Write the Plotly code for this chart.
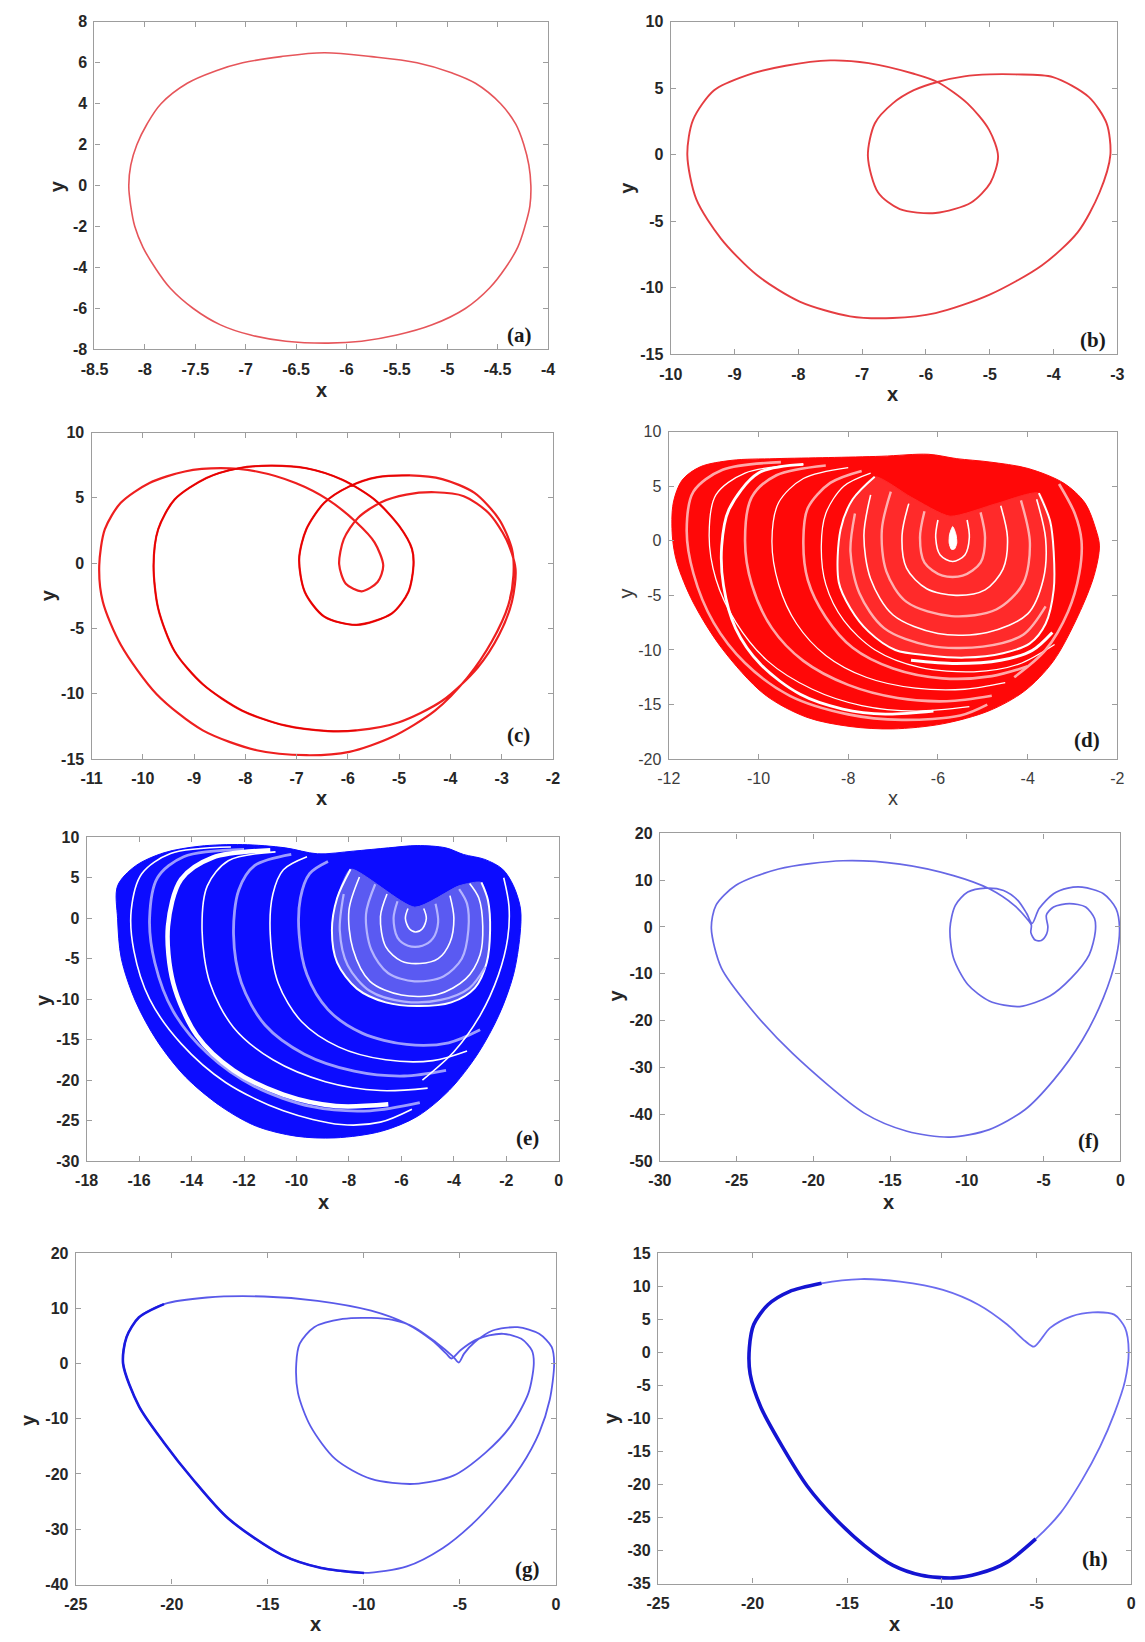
import plotly.graph_objects as go

W, H = 1145, 1642

# ---------------- data ----------------
# (a) period-1 cycle
A_X = [-6.22, -5.75, -5.30, -4.95, -4.72, -4.47, -4.32, -4.24, -4.19, -4.17, -4.18, -4.23, -4.30,
       -4.42, -4.58, -4.82, -5.15, -5.50, -5.85, -6.18, -6.60, -6.95, -7.25, -7.52, -7.75, -7.90,
       -8.02, -8.10, -8.14, -8.16, -8.14, -8.08, -7.98, -7.84, -7.58, -7.30, -7.03, -6.65, -6.22]
A_Y = [6.49, 6.30, 6.00, 5.50, 5.00, 4.00, 3.00, 2.00, 1.00, 0.00, -1.00, -2.00, -3.00,
       -4.00, -5.00, -6.00, -6.80, -7.30, -7.60, -7.69, -7.60, -7.30, -6.80, -6.00, -5.00, -4.00,
       -3.00, -2.00, -1.00, 0.00, 1.00, 2.00, 3.00, 4.00, 5.00, 5.60, 6.00, 6.30, 6.49]

# (b) period-2 cycle
B_X = [-5.82, -5.35, -5.01, -4.87, -4.99, -5.29, -5.85, -6.41, -6.75, -6.91, -6.80, -6.52, -6.19,
       -5.82, -5.40, -5.00, -4.60, -4.01, -3.45, -3.17, -3.11, -3.28, -3.62, -4.18, -5.01, -5.85,
       -6.52, -7.19, -7.98, -8.65, -9.21, -9.60, -9.74, -9.65, -9.32, -8.81, -8.20, -7.50, -6.90,
       -6.19, -5.82]
B_Y = [5.48, 3.87, 1.88, -0.10, -2.09, -3.58, -4.37, -4.08, -2.83, -0.10, 2.38, 3.87, 4.86,
       5.48, 5.90, 6.05, 6.05, 5.85, 4.36, 2.38, 0, -2.83, -5.81, -8.30, -10.53, -11.90,
       -12.27, -12.14, -11.03, -9.04, -6.31, -3.33, 0, 2.63, 4.86, 5.98, 6.70, 7.10, 6.90,
       6.10, 5.48]

# (c) period-4 cycle
C_X = [-4.79, -4.16, -3.53, -3.05, -2.80, -2.77, -2.87, -3.19, -3.67, -4.30, -5.14, -5.97, -6.81,
       -7.78, -8.83, -9.73, -10.43, -10.78, -10.85, -10.74, -10.43, -9.87, -9.18, -8.48, -7.78,
       -7.02, -6.39, -5.83, -5.48, -5.31, -5.42, -5.73, -6.04, -6.17, -6.08, -5.80, -5.35, -4.86,
       -4.30, -3.74, -3.26, -2.91, -2.73, -2.80, -3.05, -3.47, -4.16, -5.00, -5.83, -6.39, -7.23,
       -8.06, -8.83, -9.38, -9.70, -9.79, -9.70, -9.38, -8.76, -8.13, -7.50, -6.81, -6.11, -5.48,
       -5.00, -4.75, -4.72, -4.82, -5.14, -5.83, -6.46, -6.84, -6.95, -6.81, -6.46, -5.97, -5.42,
       -4.79]
C_Y = [6.72, 6.44, 5.38, 3.36, 1.09, -0.93, -3.21, -5.98, -8.76, -11.29, -13.31, -14.44, -14.70,
       -14.32, -12.80, -10.03, -6.24, -2.95, -0.18, 2.60, 4.62, 6.14, 7.02, 7.27, 7.02,
       6.14, 4.87, 3.11, 1.59, -0.18, -1.44, -2.15, -1.57, -0.08, 1.84, 3.48, 4.67, 5.25,
       5.43, 5.13, 3.86, 1.84, -0.43, -2.95, -5.48, -8.00, -10.53, -12.17, -12.80, -12.85, -12.42,
       -11.29, -9.27, -6.74, -3.46, -0.18, 2.60, 4.87, 6.52, 7.27, 7.47, 7.27, 6.39, 4.87,
       2.85, 1.09, -0.18, -2.20, -3.84, -4.72, -4.09, -2.20, 0.33, 2.60, 4.62, 5.88, 6.59,
       6.72]

# (d) chaotic attractor (red): envelope, spiral core, bands
D_ENV_X = [-11.90, -11.70, -11.30, -10.59, -9.63, -8.44, -7.25, -6.21, -5.58, -4.86, -3.99, -3.19,
           -2.72, -2.48, -2.40, -2.52, -2.87, -3.43, -4.07, -4.86, -5.90, -7.01, -7.96, -8.92,
           -9.87, -10.82, -11.46, -11.82, -11.92, -11.90]
D_ENV_Y = [3.45, 5.56, 6.77, 7.37, 7.52, 7.62, 7.74, 7.92, 7.52, 7.22, 6.62, 5.26,
           3.45, 1.04, -0.47, -3.19, -6.81, -11.04, -13.76, -15.57, -16.77, -17.23, -17.01, -16.17,
           -14.06, -9.83, -5.61, -1.98, 0.43, 3.45]
D_SP_X = [-7.41, -7.90, -8.17, -8.21, -7.95, -7.55, -6.95, -6.20, -5.40, -4.55, -3.95, -3.60,
          -3.42, -3.42, -3.50, -3.75, -4.70, -5.73, -6.60, -7.41]
D_SP_Y = [5.87, 3.80, 1.03, -3.80, -6.20, -8.30, -10.00, -10.50, -10.70, -10.30, -9.40, -7.60,
          -4.50, -1.00, 1.80, 4.36, 3.40, 2.25, 4.00, 5.87]
D_W1_X = [-9.0, -10.0, -10.66, -10.82, -10.78, -10.51, -9.95, -9.07, -8.12, -7.17, -6.10]
D_W1_Y = [7.0, 6.2, 2.85, -0.47, -4.10, -8.02, -11.34, -14.06, -15.41, -15.87, -15.60]
D_W3_X = [-6.6, -5.6, -4.6, -3.9, -3.45]
D_W3_Y = [-10.95, -11.25, -10.95, -10.05, -8.40]
D_B1_X = [-9.5, -10.8, -11.45, -11.6, -11.45, -11.0, -10.3, -9.3, -8.0, -6.8, -5.5, -4.9]
D_B1_Y = [7.2, 6.5, 4.5, 1.0, -3.0, -7.5, -11.2, -14.2, -15.9, -16.4, -16.0, -15.0]
D_B2_X = [-9.0, -10.3, -10.95, -11.1, -10.95, -10.5, -9.8, -8.8, -7.7, -6.5, -5.3]
D_B2_Y = [7.0, 6.2, 4.2, 0.5, -3.5, -7.5, -11.0, -13.6, -15.1, -15.6, -15.2]
D_B3_X = [-8.5, -9.6, -10.15, -10.3, -10.15, -9.7, -9.0, -8.0, -6.9, -5.8, -4.8]
D_B3_Y = [6.9, 6.0, 4.0, 0.0, -4.0, -8.0, -11.0, -13.2, -14.4, -14.7, -14.2]
D_B4_X = [-8.0, -9.0, -9.55, -9.7, -9.55, -9.15, -8.5, -7.6, -6.5, -5.4, -4.5]
D_B4_Y = [6.7, 5.7, 3.5, 0.0, -4.0, -7.6, -10.5, -12.5, -13.5, -13.6, -13.0]
D_B5_X = [-7.7, -8.4, -8.9, -9.0, -8.9, -8.5, -7.9, -7.0, -5.9, -4.8, -4.0]
D_B5_Y = [6.4, 5.3, 3.0, 0.0, -3.6, -7.0, -9.8, -11.7, -12.6, -12.4, -11.5]
D_B6_X = [-7.5, -8.1, -8.5, -8.6, -8.5, -8.1, -7.4, -6.4, -5.2, -4.2, -3.4]
D_B6_Y = [6.2, 5.0, 2.5, -0.5, -4.0, -7.3, -10.0, -11.6, -12.0, -11.3, -9.5]
D_B7_X = [-3.3, -2.95, -2.8, -2.85, -3.1, -3.6, -4.3]
D_B7_Y = [5.2, 2.5, 0.0, -3.0, -6.5, -10.0, -12.5]
D_R1_X = [-6.00, -6.05, -5.95, -5.67, -5.40, -5.30, -5.35]
D_R1_Y = [1.9, 0.3, -1.3, -1.9, -1.3, 0.3, 1.9]
D_R2_X = [-6.30, -6.40, -6.30, -5.90, -5.45, -5.05, -4.95, -5.05]
D_R2_Y = [2.7, 0.3, -2.0, -3.2, -3.2, -2.0, 0.3, 2.6]
D_R3_X = [-6.65, -6.80, -6.70, -6.25, -5.60, -4.95, -4.55, -4.45, -4.60]
D_R3_Y = [3.4, 0.5, -2.5, -4.4, -5.0, -4.5, -2.6, 0.3, 3.2]
D_R4_X = [-7.05, -7.25, -7.15, -6.70, -5.70, -4.70, -4.10, -3.95, -4.15]
D_R4_Y = [4.5, 1.0, -2.8, -5.6, -6.9, -6.3, -3.9, -0.2, 3.7]
D_R5_X = [-7.50, -7.65, -7.50, -7.00, -6.00, -4.90, -4.00, -3.65, -3.60, -3.80]
D_R5_Y = [4.2, 0.5, -3.5, -6.8, -8.5, -8.4, -6.7, -3.5, 0.2, 3.8]
D_R6_X = [-7.85, -7.95, -7.75, -7.20, -6.20, -5.00, -4.10, -3.60]
D_R6_Y = [2.5, -1.0, -4.8, -8.0, -9.6, -9.7, -8.6, -6.0]
D_HOLE_X = [-5.67, -5.60, -5.58, -5.63, -5.70, -5.75, -5.74, -5.67]
D_HOLE_Y = [1.3, 0.6, -0.2, -0.75, -0.78, -0.2, 0.6, 1.3]

# (e) chaotic attractor (blue)
E_ENV_X = [-16.82, -16.14, -15.05, -13.69, -12.06, -10.43, -9.20, -7.84, -6.49, -5.40, -4.31, -3.63,
           -2.82, -2.14, -1.73, -1.46, -1.48, -1.73, -2.27, -3.09, -4.17, -5.40, -6.76, -8.52,
           -10.02, -11.52, -12.87, -14.23, -15.32, -16.14, -16.68, -16.82, -16.82]
E_ENV_Y = [4.01, 6.46, 8.09, 8.90, 9.10, 8.70, 7.96, 8.29, 8.70, 8.98, 8.70, 7.88,
           7.27, 6.05, 4.01, 1.16, -2.10, -6.99, -11.87, -16.76, -21.24, -24.50, -26.33, -27.15,
           -26.94, -25.72, -23.28, -19.61, -15.13, -10.24, -4.95, -0.06, 4.01]
E_SP_X = [-7.94, -8.45, -8.65, -8.45, -7.70, -6.60, -5.40, -4.10, -3.20, -2.75, -2.62, -2.70,
          -2.95, -3.81, -5.49, -7.94]
E_SP_Y = [6.06, 2.5, -1.5, -5.5, -8.7, -10.4, -10.86, -10.4, -8.6, -5.5, -1.5, 2.2,
          4.42, 4.0, 1.37, 6.06]
E_B1_X = [-12.5, -14.8, -15.9, -16.3, -16.2, -15.6, -14.4, -12.7, -10.5, -8.3, -6.8, -5.6]
E_B1_Y = [8.8, 8.0, 5.5, 1.0, -4.0, -10.0, -15.5, -20.3, -23.8, -25.5, -25.2, -23.6]
E_B2_X = [-12.0, -14.3, -15.3, -15.6, -15.4, -14.7, -13.4, -11.6, -9.4, -7.2, -5.3]
E_B2_Y = [8.5, 7.6, 5.0, 0.0, -5.5, -11.5, -16.7, -20.8, -23.3, -23.8, -22.8]
E_B3_X = [-11.0, -13.2, -14.4, -14.9, -14.7, -13.8, -12.4, -10.5, -8.5, -6.5]
E_B3_Y = [8.4, 7.5, 4.8, -1.0, -8.0, -14.5, -18.8, -21.8, -23.2, -23.0]
E_B4_X = [-10.8, -12.6, -13.4, -13.6, -13.3, -12.4, -10.9, -8.9, -6.8, -5.0]
E_B4_Y = [8.2, 7.1, 4.0, -1.5, -8.0, -13.5, -17.5, -20.2, -21.3, -21.0]
E_B5_X = [-10.2, -11.6, -12.2, -12.4, -12.1, -11.2, -9.7, -7.8, -5.9, -4.3]
E_B5_Y = [7.9, 6.5, 3.5, -2.0, -8.0, -13.2, -16.8, -18.9, -19.5, -18.8]
E_B6_X = [-9.6, -10.5, -10.9, -11.0, -10.7, -9.8, -8.4, -6.6, -4.8, -3.5]
E_B6_Y = [7.6, 6.0, 3.0, -2.0, -8.0, -12.8, -15.9, -17.5, -17.6, -16.4]
E_B7_X = [-8.8, -9.5, -9.85, -9.9, -9.6, -8.8, -7.5, -5.8, -4.2, -3.0]
E_B7_Y = [7.0, 5.5, 2.5, -2.0, -7.0, -11.3, -14.2, -15.6, -15.4, -13.8]
E_B8_X = [-2.1, -1.9, -1.95, -2.3, -3.0, -4.0, -5.2]
E_B8_Y = [5.0, 1.5, -2.5, -7.0, -12.0, -16.5, -20.0]
E_R1_X = [-5.75, -5.85, -5.70, -5.46, -5.20, -5.05, -5.15]
E_R1_Y = [1.2, 0.0, -1.3, -1.7, -1.3, 0.0, 1.2]
E_R2_X = [-6.15, -6.30, -6.15, -5.75, -5.20, -4.80, -4.60, -4.70]
E_R2_Y = [2.1, 0.0, -2.4, -3.4, -3.4, -2.5, -0.5, 1.8]
E_R3_X = [-6.55, -6.80, -6.60, -6.00, -5.30, -4.60, -4.15, -4.00, -4.15]
E_R3_Y = [3.0, 0.2, -3.5, -5.3, -5.6, -5.0, -3.0, 0.0, 2.8]
E_R4_X = [-7.00, -7.35, -7.15, -6.50, -5.50, -4.40, -3.70, -3.45, -3.50, -3.80]
E_R4_Y = [4.2, 0.5, -3.9, -6.8, -7.8, -7.2, -5.0, -1.5, 1.8, 3.6]
E_R5_X = [-7.60, -8.00, -7.85, -7.20, -6.00, -4.60, -3.55, -3.00, -2.90, -3.05, -3.40]
E_R5_Y = [5.1, 1.0, -3.8, -7.8, -9.5, -9.4, -7.5, -4.5, -1.0, 2.5, 4.3]
E_R6_X = [-8.20, -8.35, -8.05, -7.20, -5.90, -4.50, -3.40, -2.80]
E_R6_Y = [3.0, -1.5, -5.8, -9.0, -10.3, -10.1, -8.6, -6.0]

# (f) period-3 cycle
F_X = [-2.49, -1.10, -0.28, -0.05, -0.28, -1.10, -2.49, -4.35, -6.22, -8.54, -11.10, -13.90, -16.69,
       -21.34, -24.14, -26.00, -26.65, -26.35, -25.07, -22.27, -18.08, -14.36, -10.87, -8.54, -6.91,
       -6.10, -5.80, -5.83, -5.55, -5.15, -4.80, -4.72, -4.82, -4.35, -3.31, -2.26, -1.68, -1.63,
       -2.03, -3.19, -4.59, -6.56, -8.54, -9.94, -10.87, -11.10, -10.75, -9.94, -8.78, -7.61,
       -6.68, -6.10, -5.75, -5.29, -4.35, -3.42, -2.49]
F_Y = [8.51, 7.10, 3.93, -0.30, -6.65, -15.10, -24.27, -32.73, -39.07, -43.30, -44.92, -43.65, -39.78,
       -27.09, -17.22, -8.76, -0.30, 4.63, 8.86, 12.39, 14.15, 13.44, 10.98, 8.16, 4.63,
       1.81, 0.40, -1.20, -2.80, -2.90, -1.50, 0.0, 2.52, 4.28, 4.98, 4.28, 1.81, -1.00,
       -5.94, -10.88, -14.75, -17.01, -15.81, -12.29, -6.65, -0.30, 4.63, 7.45, 8.30, 7.80,
       5.69, 2.87, 0.76, 3.93, 7.10, 8.30, 8.51]

# (g) period-2 cycle
G_X = [-1.99, -0.87, -0.22, -0.09, -0.32, -0.87, -1.80, -3.11, -4.41, -5.90, -7.76, -9.99, -12.22,
       -14.27, -17.06, -18.92, -20.41, -21.71, -22.54, -22.36, -21.71, -20.41, -18.17, -15.20,
       -12.41, -9.62, -7.76, -6.45, -5.71, -5.43, -4.97, -4.22, -3.48, -2.73, -1.80, -1.25, -1.15,
       -1.43, -2.36, -3.66, -5.34, -7.38, -9.62, -11.48, -12.78, -13.43, -13.52, -13.34, -12.59,
       -11.10, -9.62, -8.50, -7.38, -6.27, -5.34, -5.06, -4.78, -4.22, -3.29, -1.99]
G_Y = [6.57, 5.37, 2.99, 0.0, -6.57, -12.54, -18.51, -24.48, -29.25, -33.43, -36.72, -37.91, -37.01,
       -34.63, -28.06, -20.90, -14.33, -7.76, 0.0, 4.78, 8.36, 10.75, 11.94, 12.12,
       11.34, 9.55, 7.16, 4.18, 1.79, 0.90, 2.39, 4.18, 5.07, 5.37, 4.48, 2.39, 0.0,
       -5.37, -11.34, -16.12, -20.30, -21.79, -20.90, -17.31, -11.34, -5.37, 0.0, 3.58, 6.57,
       8.06, 8.24, 7.88, 6.57, 3.88, 1.19, 0.18, 1.79, 3.88, 5.97, 6.57]

# (h) period-1 cycle
H_X = [-5.13, -4.28, -3.15, -2.02, -0.89, -0.32, -0.13, -0.32, -0.89, -1.64, -2.58, -3.72, -5.04,
       -6.55, -8.06, -9.38, -11.08, -12.58, -14.09, -15.60, -17.11, -18.43, -19.57, -20.13, -20.17,
       -19.94, -19.19, -18.06, -16.36, -14.28, -12.21, -9.94, -8.06, -6.55, -5.60, -5.13]
H_Y = [0.83, 3.67, 5.42, 6.02, 5.67, 3.67, 0.18, -4.31, -9.30, -14.29, -19.28, -24.27, -28.26,
       -31.76, -33.50, -34.15, -33.75, -32.25, -29.26, -25.27, -20.28, -14.29, -8.30, -3.31, 0.68,
       4.17, 7.17, 9.16, 10.41, 11.06, 10.66, 9.41, 7.17, 4.17, 1.68, 0.83]

# tick values
A_XT = [-8.5, -8, -7.5, -7, -6.5, -6, -5.5, -5, -4.5, -4]
A_YT = [-8, -6, -4, -2, 0, 2, 4, 6, 8]
B_XT = [-10, -9, -8, -7, -6, -5, -4, -3]
B_YT = [-15, -10, -5, 0, 5, 10]
C_XT = [-11, -10, -9, -8, -7, -6, -5, -4, -3, -2]
C_YT = [-15, -10, -5, 0, 5, 10]
D_XT = [-12, -10, -8, -6, -4, -2]
D_YT = [-20, -15, -10, -5, 0, 5, 10]
E_XT = [-18, -16, -14, -12, -10, -8, -6, -4, -2, 0]
E_YT = [-30, -25, -20, -15, -10, -5, 0, 5, 10]
F_XT = [-30, -25, -20, -15, -10, -5, 0]
F_YT = [-50, -40, -30, -20, -10, 0, 10, 20]
G_XT = [-25, -20, -15, -10, -5, 0]
G_YT = [-40, -30, -20, -10, 0, 10, 20]
H_XT = [-25, -20, -15, -10, -5, 0]
H_YT = [-35, -30, -25, -20, -15, -10, -5, 0, 5, 10, 15]

LABELS = ["(a)", "(b)", "(c)", "(d)", "(e)", "(f)", "(g)", "(h)"]

# ---------------- layout (pixel frames of each panel) ----------------
PANELS = [
    dict(f=(82, 544, 14, 345), xt=A_XT, yt=A_YT, xl=(313, 386), yl=(44, 180), lab=(515, 330)),
    dict(f=(669, 1124, 14, 350), xt=B_XT, yt=B_YT, xl=(895, 390), yl=(625, 182), lab=(1099, 335)),
    dict(f=(79, 549, 429, 759), xt=C_XT, yt=C_YT, xl=(313, 798), yl=(35, 593), lab=(514, 735)),
    dict(f=(667, 1124, 428, 759), xt=D_XT, yt=D_YT, xl=(895, 798), yl=(623, 592), lab=(1093, 740)),
    dict(f=(74, 555, 838, 1165), xt=E_XT, yt=E_YT, xl=(315, 1206), yl=(29, 1002), lab=(523, 1142)),
    dict(f=(658, 1127, 834, 1165), xt=F_XT, yt=F_YT, xl=(891, 1206), yl=(613, 998), lab=(1095, 1145)),
    dict(f=(63, 552, 1258, 1593), xt=G_XT, yt=G_YT, xl=(307, 1633), yl=(15, 1427), lab=(523, 1577)),
    dict(f=(656, 1138, 1258, 1592), xt=H_XT, yt=H_YT, xl=(897, 1633), yl=(608, 1425), lab=(1101, 1567)),
]

FRAME = "#9d9d9d"
fig = go.Figure()


def ax(i):
    return ("x" if i == 0 else f"x{i+1}"), ("y" if i == 0 else f"y{i+1}")


def line(i, xs, ys, color, width, smooth=0.9):
    xa, ya = ax(i)
    fig.add_trace(go.Scatter(x=xs, y=ys, mode="lines", xaxis=xa, yaxis=ya,
                             line=dict(color=color, width=width, shape="spline", smoothing=smooth),
                             hoverinfo="skip", showlegend=False))


def area(i, xs, ys, color, smooth=0.9):
    xa, ya = ax(i)
    fig.add_trace(go.Scatter(x=xs, y=ys, mode="lines", xaxis=xa, yaxis=ya, fill="toself",
                             fillcolor=color,
                             line=dict(color=color, width=1, shape="spline", smoothing=smooth),
                             hoverinfo="skip", showlegend=False))


# (a)
line(0, A_X, A_Y, "rgba(228,70,76,0.92)", 1.6, 1.0)
# (b)
line(1, B_X, B_Y, "rgba(226,40,44,0.9)", 1.9, 0.8)
# (c)
line(2, C_X, C_Y, "#ee1f1f", 2.2, 0.8)
line(2, C_X[48:78], C_Y[48:78], "#e60000", 1.4, 0.8)

# (d)
area(3, D_ENV_X, D_ENV_Y, "#ff0808")
for k, (xs, ys) in enumerate([(D_B1_X, D_B1_Y), (D_B2_X, D_B2_Y), (D_B3_X, D_B3_Y),
                              (D_B4_X, D_B4_Y), (D_B5_X, D_B5_Y), (D_B6_X, D_B6_Y),
                              (D_B7_X, D_B7_Y)]):
    if k % 2 == 0:
        line(3, xs, ys, "#ffa8a8", 2.6)
    else:
        line(3, xs, ys, "#ffffff", 1.3)
line(3, D_W1_X, D_W1_Y, "#ffffff", 2.8)
area(3, D_SP_X, D_SP_Y, "#ff2a2a", 0.6)
line(3, D_SP_X[:16], D_SP_Y[:16], "#ffffff", 2.0)
line(3, D_W3_X, D_W3_Y, "#ffffff", 3.0)
for k, (xs, ys) in enumerate([(D_R1_X, D_R1_Y), (D_R2_X, D_R2_Y), (D_R3_X, D_R3_Y),
                              (D_R4_X, D_R4_Y), (D_R5_X, D_R5_Y), (D_R6_X, D_R6_Y)]):
    line(3, xs, ys, "#ffffff" if k % 2 == 0 else "#ffb0b0", 1.6 if k % 2 == 0 else 2.4)
area(3, D_HOLE_X, D_HOLE_Y, "#ffffff", 0.6)

# (e)
area(4, E_ENV_X, E_ENV_Y, "#0c0cff")
for k, (xs, ys) in enumerate([(E_B1_X, E_B1_Y), (E_B2_X, E_B2_Y), (E_B4_X, E_B4_Y),
                              (E_B5_X, E_B5_Y), (E_B6_X, E_B6_Y), (E_B7_X, E_B7_Y),
                              (E_B8_X, E_B8_Y)]):
    if k % 2 == 0:
        line(4, xs, ys, "#ffffff", 1.6)
    else:
        line(4, xs, ys, "#9c9cff", 2.8)
line(4, E_B3_X, E_B3_Y, "#ffffff", 4.5)
area(4, E_SP_X, E_SP_Y, "#5a5af2", 0.6)
line(4, E_SP_X[:13], E_SP_Y[:13], "#ffffff", 2.0)
for k, (xs, ys) in enumerate([(E_R1_X, E_R1_Y), (E_R2_X, E_R2_Y), (E_R3_X, E_R3_Y),
                              (E_R4_X, E_R4_Y), (E_R5_X, E_R5_Y), (E_R6_X, E_R6_Y)]):
    line(4, xs, ys, "#ffffff" if k % 2 == 0 else "#b4b4ff", 1.6 if k % 2 == 0 else 2.2)

# (f)
line(5, F_X, F_Y, "rgba(95,95,228,0.95)", 1.7, 0.8)
# (g)
line(6, G_X, G_Y, "rgba(80,80,232,0.95)", 1.8, 0.8)
line(6, G_X[11:22], G_Y[11:22], "#1a1ae0", 2.6, 0.8)
# (h)
line(7, H_X, H_Y, "rgba(100,100,238,0.95)", 1.8, 0.8)
line(7, H_X[12:29], H_Y[12:29], "#1414d2", 3.6, 0.8)

# ---------------- axes & annotations ----------------
layout = dict(width=W, height=H, margin=dict(l=0, r=0, t=0, b=0),
              paper_bgcolor="white", plot_bgcolor="white", showlegend=False)
annotations = []
for i, p in enumerate(PANELS):
    l, r, t, b = p["f"]
    bold = i != 3
    tcol = "#262626" if bold else "#3c3c3c"
    tfont = dict(family="Liberation Sans, Arial", size=16, color=tcol,
                 weight="bold" if bold else "normal")
    common = dict(showline=True, linecolor=FRAME, linewidth=1.3, mirror="ticks",
                  ticks="inside", ticklen=5, tickcolor=FRAME, tickwidth=1.2,
                  showgrid=False, zeroline=False, tickfont=tfont, fixedrange=True)
    xs = "xaxis" if i == 0 else f"xaxis{i+1}"
    ys = "yaxis" if i == 0 else f"yaxis{i+1}"
    xa, ya = ax(i)
    layout[xs] = dict(domain=[l / W, r / W], anchor=ya,
                      range=[p["xt"][0], p["xt"][-1]], ticklabelstandoff=5,
                      tickvals=p["xt"], ticktext=[f"{v:g}" for v in p["xt"]], **common)
    layout[ys] = dict(domain=[1 - b / H, 1 - t / H], anchor=xa,
                      range=[p["yt"][0], p["yt"][-1]], ticklabelstandoff=3,
                      tickvals=p["yt"], ticktext=[f"{v:g}" for v in p["yt"]], **common)
    tf = dict(family="Liberation Sans, Arial", size=20, color=tcol,
              weight="bold" if bold else "normal")
    annotations.append(dict(text="x", x=p["xl"][0] / W, y=1 - p["xl"][1] / H, xref="paper",
                            yref="paper", showarrow=False, font=tf, xanchor="center",
                            yanchor="middle"))
    annotations.append(dict(text="y", x=p["yl"][0] / W, y=1 - p["yl"][1] / H, xref="paper",
                            yref="paper", showarrow=False, font=tf, textangle=-90,
                            xanchor="center", yanchor="middle"))
    annotations.append(dict(text="<b>" + LABELS[i] + "</b>", x=p["lab"][0] / W,
                            y=1 - p["lab"][1] / H, xref="paper", yref="paper",
                            showarrow=False, xanchor="center", yanchor="middle",
                            font=dict(family="Liberation Serif, Times New Roman", size=21,
                                      color="#1a1a1a")))
layout["annotations"] = annotations
fig.update_layout(**layout)
fig.write_html("out.html")
